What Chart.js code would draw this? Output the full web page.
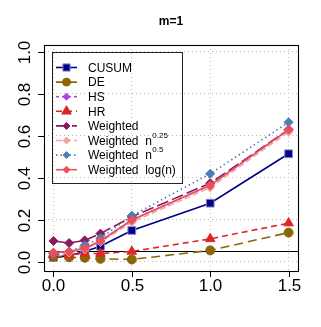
<!DOCTYPE html>
<html>
<head>
<meta charset="utf-8">
<script src="https://cdn.jsdelivr.net/npm/chart.js@4/dist/chart.umd.min.js"></script>
<style>
  body{margin:0;background:#fff;}
  #wrap{width:321px;height:327px;}
</style>
</head>
<body>
<div id="wrap"><canvas id="c" width="321" height="327"></canvas></div>
<script>
// data
const shifts = [0, 0.1, 0.2, 0.3, 0.5, 1.0, 1.5];
const cusum      = [0.022, 0.03, 0.05, 0.075, 0.15, 0.28, 0.515];
const de         = [0.025, 0.022, 0.02, 0.015, 0.012, 0.055, 0.14];
const hs         = [0.045, 0.05, 0.065, 0.10, 0.20, 0.365, 0.63];
const hr         = [0.035, 0.035, 0.04, 0.04, 0.05, 0.11, 0.185];
const weighted   = [0.10, 0.09, 0.103, 0.135, 0.215, 0.375, 0.63];
const wN025      = [0.04, 0.045, 0.06, 0.095, 0.19, 0.355, 0.62];
const wN05       = [0.04, 0.05, 0.08, 0.113, 0.22, 0.42, 0.665];
const wLog       = [0.045, 0.05, 0.065, 0.10, 0.20, 0.365, 0.63];
const seriesNames = ['CUSUM','DE','HS','HR','Weighted','Weighted  n','Weighted  n','Weighted  log(n)'];
const seriesSup   = ['','','','','','0.25','0.5',''];
const xTicks = [0, 0.5, 1.0, 1.5];
const yTicks = [0, 0.2, 0.4, 0.6, 0.8, 1.0];
const xTickLabels = ['0.0','0.5','1.0','1.5'];
const yTickLabels = ['0.0','0.2','0.4','0.6','0.8','1.0'];
const refLevel = 0.05;
const chartTitle = 'm=1';

const FONT = '"Liberation Sans", Arial, Helvetica, sans-serif';
const styles = [
  {c:'#00008B', dash:[], pt:'rect', r:5.5, lr:5, bc:'#8888cc'},
  {c:'#8B6508', dash:[9,5], pt:'circle', r:4.5, lr:4},
  {c:'#B23EF0', dash:[3,3], pt:'rectRot', r:3.5, lr:3.5},
  {c:'#DD2626', dash:[6,4], pt:'triangle', r:5.5, lr:5.5},
  {c:'#8B1A5C', dash:[12,4], pt:'rectRot', r:4.5, lr:3.5},
  {c:'#F2A2A6', dash:[6,3], pt:'rectRot', r:4.5, lr:3.5},
  {c:'#4F7DB3', dash:[1.5,3], pt:'rectRot', r:4.5, lr:3.5},
  {c:'#E8505A', dash:[], pt:'rectRot', r:4.5, lr:3.5}
];
const allData = [cusum, de, hs, hr, weighted, wN025, wN05, wLog];

const datasets = allData.map((vals,i)=>{
  const s=styles[i];
  return {
    label: seriesNames[i]+seriesSup[i],
    data: shifts.map((x,j)=>({x, y: vals[j]})),
    borderColor: s.c, backgroundColor: s.c,
    pointBackgroundColor: s.c, pointBorderColor: s.bc||s.c,
    pointBorderWidth: 1, pointStyle: s.pt, pointRadius: s.r,
    borderWidth: 1.6, borderDash: s.dash, tension: 0, fill: false,
    order: allData.length - i
  };
});

function drawMark(ctx, s, x, y, r){
  ctx.save();
  ctx.setLineDash([]);
  ctx.fillStyle=s.c; ctx.strokeStyle=s.bc||s.c; ctx.lineWidth=1;
  ctx.beginPath();
  if(s.pt==='rect'){const h=r*0.72;ctx.rect(x-h,y-h,2*h,2*h);}
  else if(s.pt==='circle'){ctx.arc(x,y,r,0,Math.PI*2);}
  else if(s.pt==='triangle'){ctx.moveTo(x,y-r);ctx.lineTo(x+r*0.87,y+r*0.5);ctx.lineTo(x-r*0.87,y+r*0.5);ctx.closePath();}
  else {ctx.moveTo(x,y-r);ctx.lineTo(x+r,y);ctx.lineTo(x,y+r);ctx.lineTo(x-r,y);ctx.closePath();}
  ctx.fill(); ctx.stroke();
  ctx.restore();
}

const decor = {
  id:'decor',
  beforeDatasetsDraw(chart){
    const {ctx, chartArea:a, scales:{y}} = chart;
    const yy=Math.round(y.getPixelForValue(refLevel))+0.5;
    ctx.save();
    ctx.strokeStyle='#000'; ctx.lineWidth=1;
    ctx.beginPath(); ctx.moveTo(a.left,yy); ctx.lineTo(a.right,yy); ctx.stroke();
    ctx.restore();
  },
  afterDraw(chart){
    const {ctx, chartArea:a, scales:{x,y}} = chart;
    ctx.save();
    // frame
    ctx.strokeStyle='#000'; ctx.lineWidth=1.1;
    ctx.strokeRect(a.left+0.5,a.top+0.5,a.right-a.left,a.bottom-a.top);
    // ticks + labels
    ctx.fillStyle='#000'; ctx.font='17px '+FONT;
    ctx.lineWidth=1;
    ctx.textAlign='center'; ctx.textBaseline='middle';
    xTicks.forEach((v,i)=>{
      const px=Math.round(x.getPixelForValue(v))+0.5;
      ctx.beginPath(); ctx.moveTo(px,a.bottom); ctx.lineTo(px,a.bottom+6); ctx.stroke();
      ctx.fillText(xTickLabels[i], px, a.bottom+15);
    });
    yTicks.forEach((v,i)=>{
      const py=Math.round(y.getPixelForValue(v))+0.5;
      ctx.beginPath(); ctx.moveTo(a.left,py); ctx.lineTo(a.left-6,py); ctx.stroke();
      ctx.save(); ctx.translate(a.left-19, py); ctx.rotate(-Math.PI/2);
      ctx.fillText(yTickLabels[i], 0, 0); ctx.restore();
    });
    // title
    ctx.font='bold 12px '+FONT;
    ctx.fillText(chartTitle, (a.left+a.right)/2, 22);
    // legend
    const lx=52.5, ly=52.5, lw=130, lh=131;
    ctx.strokeStyle='#222'; ctx.lineWidth=1;
    ctx.strokeRect(lx,ly,lw,lh);
    ctx.textAlign='left';
    seriesNames.forEach((name,i)=>{
      const s=styles[i], ry=67.5+i*14.6;
      ctx.save();
      ctx.strokeStyle=s.c; ctx.lineWidth=1.6; ctx.setLineDash(s.dash);
      ctx.beginPath(); ctx.moveTo(56,ry); ctx.lineTo(77,ry); ctx.stroke();
      ctx.restore();
      drawMark(ctx, s, 66.5, ry, s.lr);
      ctx.fillStyle='#000'; ctx.font='12px '+FONT; ctx.textBaseline='middle';
      ctx.fillText(name, 88, ry+1);
      if(seriesSup[i]){
        const w=ctx.measureText(name).width;
        ctx.font='8px '+FONT;
        ctx.fillText(seriesSup[i], 88+w+0.5, ry-5);
      }
    });
    ctx.restore();
  }
};

new Chart(document.getElementById('c'), {
  type:'line',
  data:{datasets},
  options:{
    responsive:false, animation:false,
    layout:{padding:{left:44,top:45,right:23,bottom:56}},
    plugins:{legend:{display:false}, tooltip:{enabled:false}, title:{display:false}},
    scales:{
      x:{type:'linear', min:-0.06, max:1.56,
        afterBuildTicks:s=>{s.ticks=xTicks.map(v=>({value:v}));},
        afterFit:s=>{s.height=0;},
        ticks:{display:false},
        grid:{color:'#BDBDBD', lineWidth:1, drawTicks:false},
        border:{display:false, dash:[1,3]}},
      y:{type:'linear', min:-0.043, max:1.033,
        afterBuildTicks:s=>{s.ticks=yTicks.map(v=>({value:v}));},
        afterFit:s=>{s.width=0;},
        ticks:{display:false},
        grid:{color:'#BDBDBD', lineWidth:1, drawTicks:false},
        border:{display:false, dash:[1,3]}}
    }
  },
  plugins:[decor]
});
</script>
</body>
</html>
